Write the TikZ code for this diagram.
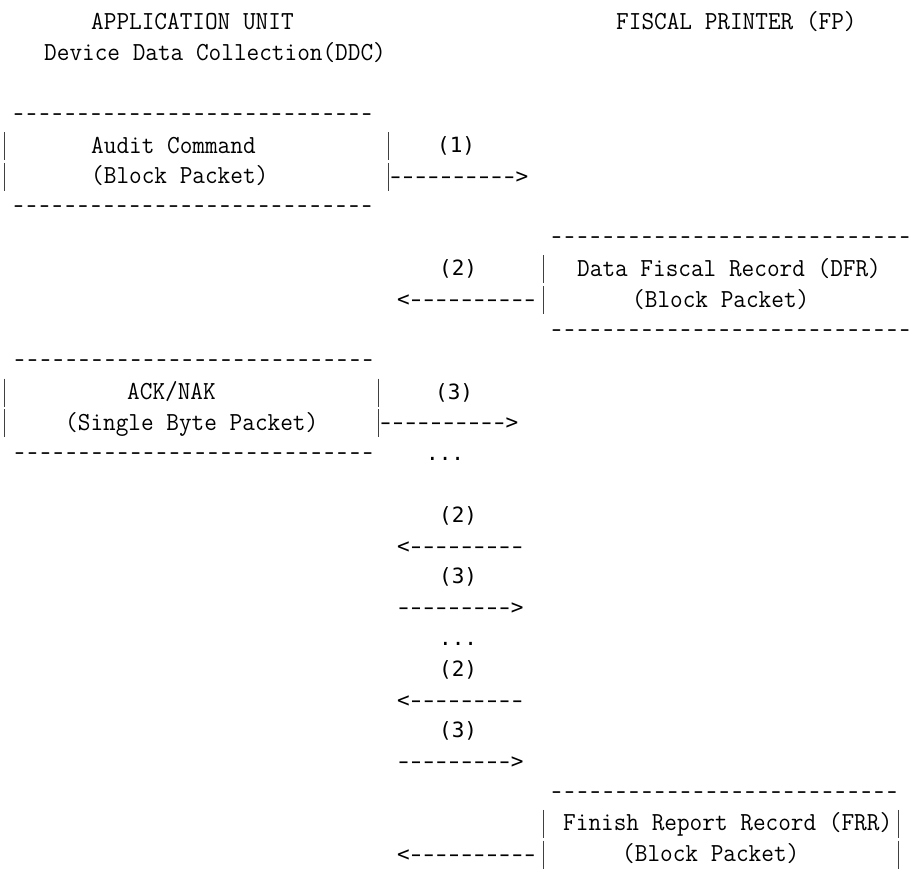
\documentclass[tikz,border=0pt]{standalone}
\usepackage{fontspec}
\usepackage{graphicx}
\newfontfamily\dvmfont{DejaVu Sans Mono}
\newcommand{\sx}[1]{\scalebox{0.945}[1]{#1}}
\newcommand{\shy}{\makebox[0.602em][c]{\scalebox{1.5}[1]{-}}}
\newcommand{\thy}{\makebox[0.525em][c]{\scalebox{0.78}[1]{-}}}
\newcommand{\rep}[2]{\foreach \i in {1,...,#1}{#2}}
\begin{document}
\begin{tikzpicture}[x=1pt,y=-1pt,
  declare function={rb(\k)=30+30.8*\k; sb(\k)=29.5+30.8*\k; bt(\k)=9+30.8*\k; bb(\k)=37+30.8*\k;},
  ser/.style={anchor=base west, inner sep=0pt, font={\fontsize{26}{30}\selectfont\ttfamily}},
  san/.style={anchor=base west, inner sep=0pt, font={\fontsize{21}{24}\dvmfont}},
  vbar/.style={line width=1pt, draw=black!75}]
\useasboundingbox (0,0) rectangle (911,869);
% headers
\node[ser] (appunit) at (91,{rb(0)}) {\sx{APPLICATION UNIT}};
\node[ser] (fp) at (616,{rb(0)}) {\sx{FISCAL PRINTER (FP)}};
\node[ser] (ddc) at (44,{rb(1)}) {\sx{Device Data Collection(DDC)}};
% box 1
\node[ser] (b1top) at (12,{rb(3)}) {\sx{\rep{28}{\thy}}};
\node[ser] (audit) at (91,{rb(4)}) {\sx{Audit Command}};
\node[ser] (audbp) at (91,{rb(5)}) {\sx{(Block Packet)}};
\node[ser] (b1bot) at (12,{rb(6)}) {\sx{\rep{28}{\thy}}};
\foreach \k in {4,5}{\draw[vbar] (4,{bt(\k)}) -- (4,{bb(\k)}); \draw[vbar] (388,{bt(\k)}) -- (388,{bb(\k)});}
\node[san] (l1) at (437,{sb(4)}) {(1)};
\node[san] (a1) at (389,{sb(5)}) {\rep{10}{\shy}>};
% box 2
\node[ser] (b2top) at (550,{rb(7)}) {\sx{\rep{28}{\thy}}};
\node[ser] (dfr) at (577,{rb(8)}) {\sx{Data Fiscal Record (DFR)}};
\node[ser] (dfrbp) at (632,{rb(9)}) {\sx{(Block Packet)}};
\node[ser] (b2bot) at (550,{rb(10)}) {\sx{\rep{28}{\thy}}};
\foreach \k in {8,9}{\draw[vbar] (543,{bt(\k)}) -- (543,{bb(\k)});}
\node[san] (l2) at (439,{sb(8)}) {(2)};
\node[san] (a2) at (397,{sb(9)}) {<\rep{10}{\shy}};
% box 3
\node[ser] (b3top) at (13,{rb(11)}) {\sx{\rep{28}{\thy}}};
\node[ser] (ack) at (127,{rb(12)}) {\sx{ACK/NAK}};
\node[ser] (sbp) at (65,{rb(13)}) {\sx{(Single Byte Packet)}};
\node[ser] (b3bot) at (13,{rb(14)}) {\sx{\rep{28}{\thy}}};
\foreach \k in {12,13}{\draw[vbar] (4,{bt(\k)}) -- (4,{bb(\k)}); \draw[vbar] (378,{bt(\k)}) -- (378,{bb(\k)});}
\node[san] (l3) at (435,{sb(12)}) {(3)};
\node[san] (a3) at (379,{sb(13)}) {\rep{10}{\shy}>};
\node[san] (d1) at (426,{sb(14)}) {...};
% repeated exchange
\node[san] (l4) at (439,{sb(16)}) {(2)};
\node[san] (a4) at (397,{sb(17)}) {<\rep{9}{\shy}};
\node[san] (l5) at (439,{sb(18)}) {(3)};
\node[san] (a5) at (397,{sb(19)}) {\rep{9}{\shy}>};
\node[san] (d2) at (439,{sb(20)}) {...};
\node[san] (l6) at (439,{sb(21)}) {(2)};
\node[san] (a6) at (397,{sb(22)}) {<\rep{9}{\shy}};
\node[san] (l7) at (439,{sb(23)}) {(3)};
\node[san] (a7) at (397,{sb(24)}) {\rep{9}{\shy}>};
% box 4
\node[ser] (b4top) at (550,{rb(25)}) {\sx{\rep{27}{\thy}}};
\node[ser] (frr) at (563,{rb(26)}) {\sx{Finish Report Record (FRR)}};
\node[ser] (frrbp) at (622,{rb(27)}) {\sx{(Block Packet)}};
\foreach \k in {26,27}{\draw[vbar] (543,{bt(\k)}) -- (543,{bb(\k)}); \draw[vbar] (898,{bt(\k)}) -- (898,{bb(\k)});}
\node[san] (a8) at (397,{sb(27)}) {<\rep{10}{\shy}};
\end{tikzpicture}
\end{document}
